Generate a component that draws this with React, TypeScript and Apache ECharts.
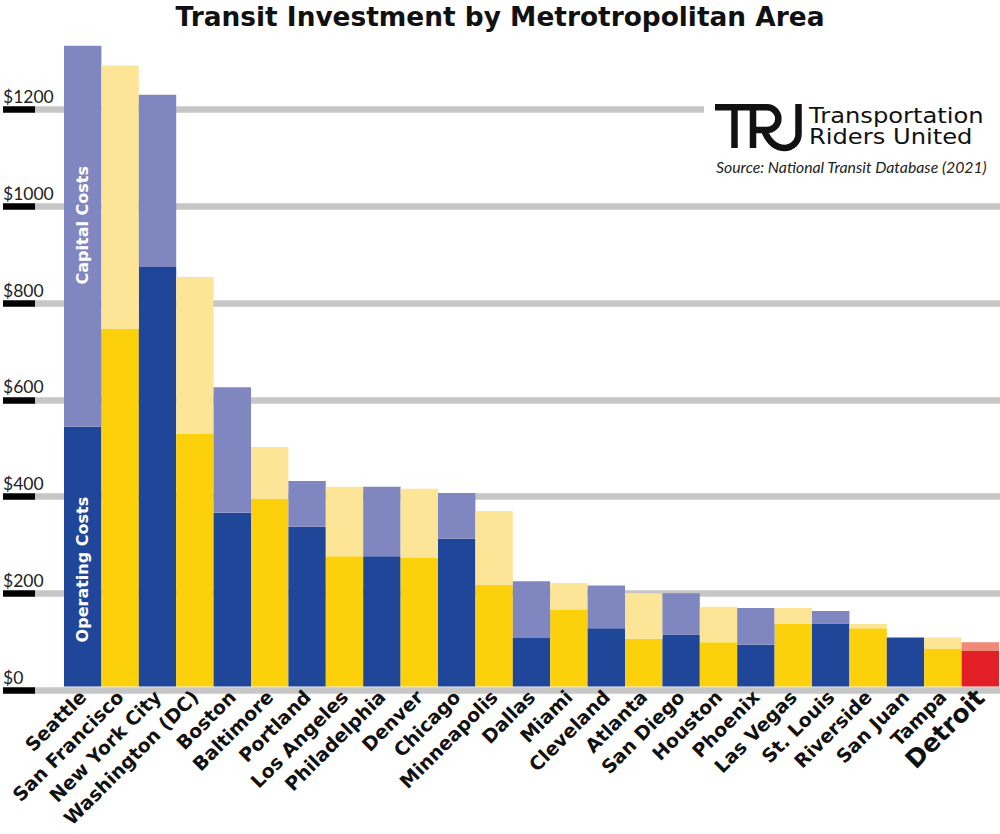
import React, { useEffect, useRef } from "react";
import * as echarts from "echarts";

const categories = [
  "Seattle", "San Francisco", "New York City", "Washington (DC)", "Boston",
  "Baltimore", "Portland", "Los Angeles", "Philadelphia", "Denver", "Chicago",
  "Minneapolis", "Dallas", "Miami", "Cleveland", "Atlanta", "San Diego",
  "Houston", "Phoenix", "Las Vegas", "St. Louis", "Riverside", "San Juan",
  "Tampa", "Detroit",
];
const operatingCosts = [
  540, 743, 872, 525, 361, 390, 332, 271, 271, 267, 307, 211, 101, 160, 121,
  99, 108, 92, 87, 130, 131, 121, 102, 79, 74,
];
const totalCosts = [
  1332, 1291, 1230, 851, 622, 498, 427, 415, 415, 411, 402, 365, 219, 215, 210,
  194, 194, 166, 163, 163, 157, 130, 102, 102, 92,
];
const capitalCosts = totalCosts.map((t, i) => t - operatingCosts[i]);
const highlighted = "Detroit";
const yMin = 0;
const yMax = 1400;
const yStep = 200;

const TITLE = "Transit Investment by Metrotropolitan Area";
const SOURCE = "Source: National Transit Database (2021)";
const ORG_LINE_1 = "Transportation";
const ORG_LINE_2 = "Riders United";

const BLUE_DARK = "#1f4698";
const BLUE_LIGHT = "#7f86c0";
const YELLOW_DARK = "#fdd00c";
const YELLOW_LIGHT = "#fde597";
const RED_DARK = "#e21e26";
const RED_LIGHT = "#f08a78";

const colorFor = (i: number, light: boolean) => {
  if (categories[i] === highlighted) return light ? RED_LIGHT : RED_DARK;
  if (i % 2 === 0) return light ? BLUE_LIGHT : BLUE_DARK;
  return light ? YELLOW_LIGHT : YELLOW_DARK;
};

const LOGO_D =
  "M0 3.3 H50 M19.5 3.3 V44 M38 3.3 V44 M38 3.3 H52 A11.3 11.3 0 0 1 52 26 H38 M49 26 Q56 44 70 44 M83.5 0 V30 A14 14 0 0 1 69.5 44";

let registered = false;

export default function App() {
  const ref = useRef<HTMLDivElement>(null);
  useEffect(() => {
    if (!ref.current) return;
    if (!registered) {
      echarts.graphic.registerShape("logo", echarts.graphic.extendPath(LOGO_D, {}) as any);
      registered = true;
    }
    const chart = echarts.init(ref.current, null, { renderer: "svg" });
    const wide = "'DejaVu Sans', Verdana, sans-serif";
    const hiddenX = (gridIndex: number) => ({
      type: "value" as const, gridIndex, show: false, min: 0, max: 1,
    });
    const lineY = (gridIndex: number, color: string, labels: boolean) => ({
      type: "value" as const,
      gridIndex,
      min: yMin,
      max: yMax,
      interval: yStep,
      axisLine: { show: false },
      axisTick: { show: false },
      splitLine: {
        show: true,
        showMaxLine: false,
        showMinLine: true,
        lineStyle: { color, width: 6.5 },
      },
      axisLabel: labels
        ? {
            show: true,
            inside: true,
            margin: 0,
            showMaxLabel: false,
            verticalAlign: "bottom",
            align: "left",
            padding: [0, 0, 4, 0],
            formatter: (v: number) => "$" + v,
            fontFamily: "Lato, sans-serif",
            fontSize: 17.5,
            color: "#222",
          }
        : { show: false },
    });

    const insideLabel = (text: string, dx: number) => ({
      show: true,
      position: "inside",
      rotate: 90,
      offset: [dx, 0],
      formatter: text,
      color: "#fff",
      fontFamily: wide,
      fontWeight: 700,
      fontSize: 16,
    });

    chart.setOption({
      animation: false,
      backgroundColor: "#ffffff",
      grid: [
        { left: 2, width: 33, top: 13, bottom: 144 },
        { left: 35, right: 0, top: 13, bottom: 144 },
        { left: 64, right: 1, top: 13, bottom: 147.5 },
      ],
      xAxis: [
        hiddenX(0),
        hiddenX(1),
        {
          type: "category",
          gridIndex: 2,
          data: categories.map((c) =>
            c === highlighted
              ? { value: c, textStyle: { fontSize: 25, fontWeight: 900 } }
              : c
          ),
          axisLine: { show: false },
          axisTick: { show: false },
          axisLabel: {
            interval: 0,
            rotate: 45,
            margin: 7,
            fontFamily: wide,
            fontWeight: 700,
            fontSize: 19,
            color: "#111",
          },
        },
      ],
      yAxis: [
        lineY(0, "#000000", true),
        lineY(1, "#c6c6c6", false),
        {
          type: "value",
          gridIndex: 2,
          min: yMin,
          max: yMax,
          interval: yStep,
          show: false,
          splitLine: { show: false },
        },
      ],
      series: [
        {
          name: "Operating Costs",
          type: "bar",
          xAxisIndex: 2,
          yAxisIndex: 2,
          stack: "cost",
          barCategoryGap: "0%",
          data: operatingCosts.map((v, i) => ({
            value: v,
            itemStyle: { color: colorFor(i, false) },
            label: i === 0 ? insideLabel("Operating Costs", -13) : { show: false },
          })),
        },
        {
          name: "Capital Costs",
          type: "bar",
          xAxisIndex: 2,
          yAxisIndex: 2,
          stack: "cost",
          barCategoryGap: "0%",
          data: capitalCosts.map((v, i) => ({
            value: v,
            itemStyle: { color: colorFor(i, true) },
            label: i === 0 ? insideLabel("Capital Costs", 11) : { show: false },
          })),
        },
      ],
      graphic: [
        {
          type: "text",
          left: "center",
          top: 3,
          style: {
            text: TITLE,
            font: "700 26.4px 'DejaVu Sans', sans-serif",
            fill: "#111",
          },
        },
        {
          type: "rect",
          shape: { x: 704, y: 104, width: 296, height: 12 },
          style: { fill: "#fff" },
          z: 10,
        },
        {
          type: "logo",
          x: 715,
          y: 104,
          z: 11,
          style: { fill: "none", stroke: "#111", lineWidth: 6.5 },
        },
        {
          type: "text",
          x: 809,
          y: 105,
          scaleX: 1.1,
          z: 11,
          style: {
            text: ORG_LINE_1,
            font: "400 22px 'DejaVu Sans', sans-serif",
            lineHeight: 20,
            fill: "#111",
          },
        },
        {
          type: "text",
          x: 809,
          y: 126,
          scaleX: 1.1,
          z: 11,
          style: {
            text: ORG_LINE_2,
            font: "400 22px 'DejaVu Sans', sans-serif",
            lineHeight: 20,
            fill: "#111",
          },
        },
        {
          type: "text",
          x: 716,
          y: 158,
          z: 11,
          style: {
            text: SOURCE,
            font: "italic 400 15.8px Lato, sans-serif",
            fill: "#222",
          },
        },
      ],
    });
    return () => chart.dispose();
  }, []);
  return (
    <div
      ref={ref}
      style={{ position: "fixed", left: 0, top: 0, width: 1000, height: 834 }}
    />
  );
}
